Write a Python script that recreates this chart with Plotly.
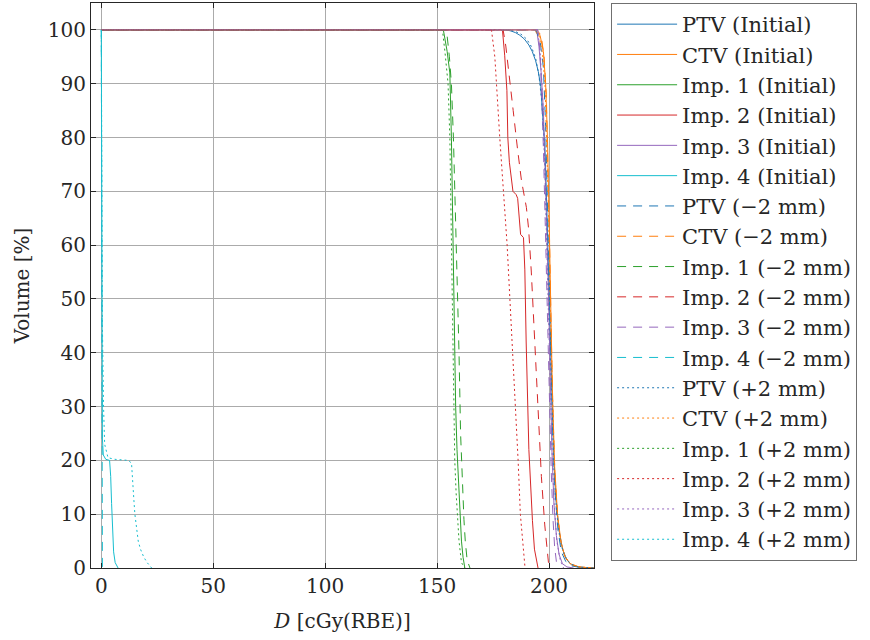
import plotly.graph_objects as go

# ---- data (dose in cGy(RBE), volume in %) ----
ptv_init_d = [0, 181, 183, 185, 187, 189, 191, 192.5, 194, 195.2, 196.3, 197.3, 198.2, 198.8, 199.5, 200.2, 201, 202, 203, 204.5, 206, 208, 210, 213, 216, 220]
ptv_init_v = [100, 100, 99.8, 99.5, 99.0, 98.3, 97.2, 96.0, 94.3, 92.3, 89.5, 84, 78, 70, 60, 48, 35, 22, 13, 7, 3.5, 1.5, 0.6, 0.2, 0.05, 0]
ctv_init_d = [0, 193.5, 196, 197.5, 198.5, 199.3, 200, 200.7, 201.5, 202.5, 203.8, 205.3, 207, 209.5, 213, 217, 220]
ctv_init_v = [100, 100, 99, 96, 90, 80, 66, 50, 33, 19, 10, 5, 2.2, 0.8, 0.25, 0.05, 0]
imp1_init_d = [0, 152.8, 154.5, 155.7, 156.4, 157.1, 157.7, 158.3, 158.9, 159.8, 160.1, 160.9, 161.6, 162.0, 162.4]
imp1_init_v = [100, 100, 96, 92, 80, 60, 40, 30, 22, 13, 10, 5, 2, 0.6, 0]
imp2_init_d = [0, 179.2, 180.2, 181.2, 181.6, 182.3, 183.9, 185.3, 186.0, 187.3, 188.6, 189.2, 189.8, 191.0, 192.6, 193.5, 195.1]
imp2_init_v = [100, 100, 95.3, 88.7, 80, 75.4, 70, 69.4, 68.7, 62, 61.4, 55.4, 42, 22, 8.8, 3.5, 0]
imp3_init_d = [0, 194.5, 195.5, 196.5, 197.5, 198.3, 199, 199.8, 200.5, 201.3, 202.2, 203.3, 204.5, 206, 208, 211]
imp3_init_v = [100, 100, 97, 92, 85, 75, 63, 50, 36, 22, 12, 6, 2.5, 0.8, 0.2, 0]
imp4_init_d = [0, 0.15, 0.3, 0.5, 0.9, 2.0, 3.7, 4.2, 4.6, 5.0, 5.5, 6.2, 7.5]
imp4_init_v = [100, 60, 35, 24, 21, 20.2, 20, 17, 12, 7, 3, 1, 0]

ptv_m2_d = [0, 194, 196, 197.5, 198.5, 199.2, 200, 200.8, 201.7, 202.7, 204, 205.5, 207.5, 210, 214, 220]
ptv_m2_v = [100, 100, 98, 93, 82, 70, 55, 40, 25, 14, 7, 3, 1.2, 0.4, 0.1, 0]
ctv_m2_d = [0, 194.5, 196.5, 197.8, 198.8, 199.5, 200.2, 200.9, 201.7, 202.7, 204, 205.6, 207.5, 210, 214, 220]
ctv_m2_v = [100, 100, 99, 95, 88, 77, 62, 46, 30, 17, 9, 4.2, 1.8, 0.6, 0.15, 0]
imp1_m2_d = [0, 154.2, 155.5, 156.4, 157.3, 158.6, 159.3, 159.8, 160.5, 161.2, 162.0, 162.6, 163.3, 164.0, 164.7]
imp1_m2_v = [100, 100, 95, 90, 80, 60, 50, 40, 25, 17, 9, 5, 2, 0.8, 0]
imp2_m2_d = [0, 179.5, 180.7, 182.2, 184.0, 185.9, 187.7, 189.9, 190.9, 192.1, 193.3, 195.1, 196.6, 198.1, 199.3, 200.0]
imp2_m2_v = [100, 100, 97, 92, 85, 78, 72, 67, 63, 55, 45, 30, 17, 8, 3, 0]
imp3_m2_d = [0, 195, 196, 196.8, 197.5, 198.2, 198.8, 199.5, 200.2, 201, 201.8, 202.5, 203.3, 204.3]
imp3_m2_v = [100, 100, 96, 88, 78, 66, 55, 42, 30, 18, 9, 4, 1.2, 0]
imp4_m2_d = [0, 0.3, 0.45, 0.5]
imp4_m2_v = [100, 60, 5, 0]

ptv_p2_d = [0, 182, 185, 187.5, 190, 192, 194, 195.5, 196.7, 197.6, 198.3, 199, 199.8, 200.5, 201.3, 202.3, 203.5, 205, 207, 209.5, 213, 217, 220]
ptv_p2_v = [100, 100, 99.7, 99.2, 98.3, 97, 94.8, 91.5, 87, 81, 74, 65, 53, 41, 29, 17, 10, 5, 2.2, 0.8, 0.2, 0.05, 0]
ctv_p2_d = [0, 193, 195.5, 197, 198.2, 199, 199.8, 200.5, 201.3, 202.3, 203.6, 205.2, 207, 209.5, 213, 217, 220]
ctv_p2_v = [100, 100, 99, 96, 90, 80, 66, 50, 34, 20, 10.5, 5, 2.2, 0.8, 0.25, 0.05, 0]
imp1_p2_d = [0, 152.4, 153.5, 154.9, 155.7, 156.4, 157.1, 157.6, 157.9, 158.5, 159.0, 159.8, 160.9, 161.8, 162.4]
imp1_p2_v = [100, 100, 96, 90, 80, 60, 40, 25, 20, 14, 10, 5, 1, 0.4, 0]
imp2_p2_d = [0, 174.3, 175.8, 176.5, 178.0, 181.3, 183.9, 186.2, 187.2, 188.2, 189.3]
imp2_p2_v = [100, 100, 95, 90, 80, 60, 40, 20, 10, 5, 0]
imp3_p2_d = [0, 195, 196.2, 197.2, 198, 198.8, 199.6, 200.4, 201.3, 202.3, 203.5, 205, 206.5]
imp3_p2_v = [100, 100, 95, 87, 76, 63, 49, 35, 22, 12, 5, 1.5, 0]
imp4_p2_d = [0, 0.2, 0.5, 1.0, 1.5, 3.0, 6.0, 9.0, 12.0, 13.5, 14.0, 14.5, 15.0, 15.5, 16.5, 17.5, 19.0, 20.5, 22.5]
imp4_p2_v = [100, 70, 45, 30, 23, 20.5, 20.2, 20.1, 20, 19.5, 17, 13, 10, 8, 5, 3.5, 2, 1, 0]

structures = ["PTV", "CTV", "Imp. 1", "Imp. 2", "Imp. 3", "Imp. 4"]
colors = ["#1f77b4", "#ff7f0e", "#2ca02c", "#d62728", "#9467bd", "#17becf"]
scenarios = ["Initial", "\u22122 mm", "+2 mm"]

series = {
    "Initial": [(ptv_init_d, ptv_init_v), (ctv_init_d, ctv_init_v), (imp1_init_d, imp1_init_v),
                (imp2_init_d, imp2_init_v), (imp3_init_d, imp3_init_v), (imp4_init_d, imp4_init_v)],
    "\u22122 mm": [(ptv_m2_d, ptv_m2_v), (ctv_m2_d, ctv_m2_v), (imp1_m2_d, imp1_m2_v),
                   (imp2_m2_d, imp2_m2_v), (imp3_m2_d, imp3_m2_v), (imp4_m2_d, imp4_m2_v)],
    "+2 mm": [(ptv_p2_d, ptv_p2_v), (ctv_p2_d, ctv_p2_v), (imp1_p2_d, imp1_p2_v),
              (imp2_p2_d, imp2_p2_v), (imp3_p2_d, imp3_p2_v), (imp4_p2_d, imp4_p2_v)],
}
dashes = {"Initial": "solid", "\u22122 mm": "9px,7px", "+2 mm": "2px,3px"}

FONT = "DejaVu Serif"
fig = go.Figure()
for sc in scenarios:
    for name, col, (d, v) in zip(structures, colors, series[sc]):
        fig.add_trace(go.Scatter(
            x=d, y=v, mode="lines", name=f"{name} ({sc})",
            line=dict(color=col, width=1, dash=dashes[sc]),
        ))

axis_common = dict(
    showgrid=True, gridcolor="#ababab", gridwidth=1,
    showline=True, linecolor="#262626", linewidth=1, mirror="ticks",
    ticks="inside", ticklen=5, tickcolor="#262626",
    tickfont=dict(family=FONT, size=20, color="#262626"),
    zeroline=False,
)
fig.update_xaxes(range=[-4.6, 220.1], tickvals=[0, 50, 100, 150, 200],
                 title=dict(text="<i>D</i> [cGy(RBE)]", font=dict(family=FONT, size=20, color="#262626"), standoff=16),
                 **axis_common)
fig.update_yaxes(range=[0, 105], tickvals=list(range(0, 101, 10)),
                 title=dict(text="Volume [%]", font=dict(family=FONT, size=20, color="#262626"), standoff=12),
                 **axis_common)

fig.update_layout(
    width=870, height=640,
    margin=dict(l=91, r=276, t=3, b=72, autoexpand=False),
    plot_bgcolor="white", paper_bgcolor="white",
    font=dict(family=FONT, color="#262626"),
    legend=dict(
        x=1.034, y=1.0, xanchor="left", yanchor="top",
        bgcolor="white", bordercolor="#707070", borderwidth=1,
        font=dict(family=FONT, size=21, color="#262626"),
        itemwidth=60, tracegroupgap=0,
    ),
    showlegend=True,
)

fig.write_html("out.html")
